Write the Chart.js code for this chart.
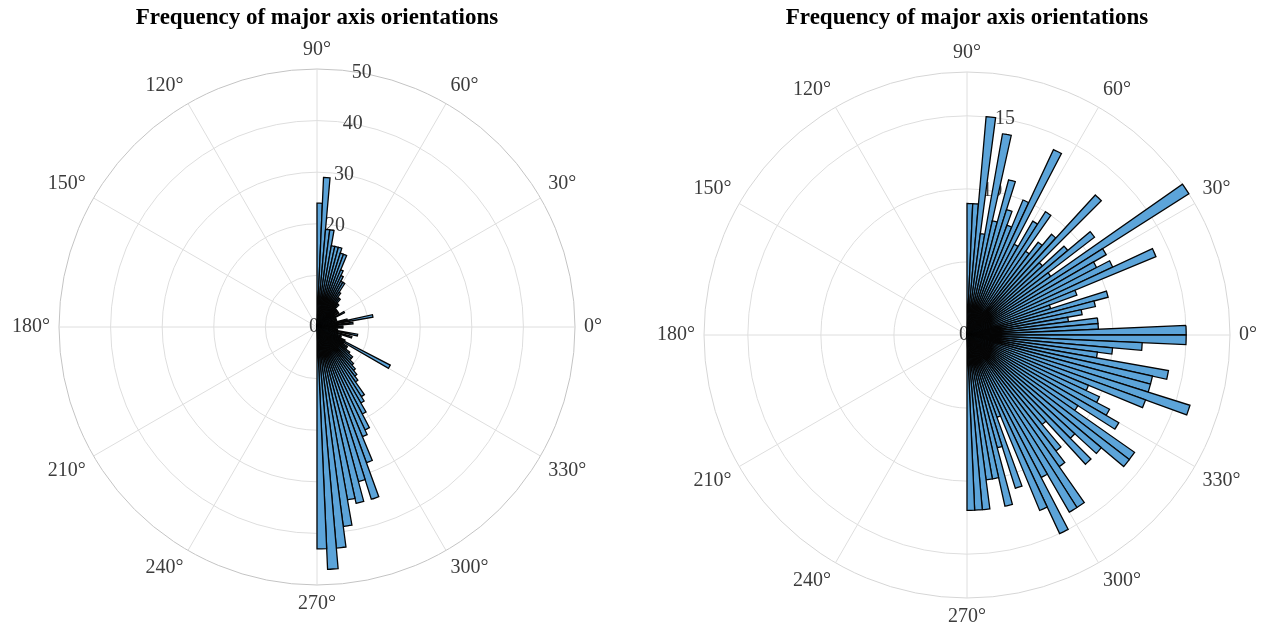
<!DOCTYPE html>
<html>
<head>
<meta charset="utf-8">
<title>Frequency of major axis orientations</title>
<script src="https://cdn.jsdelivr.net/npm/chart.js@4.4.1/dist/chart.umd.min.js"></script>
<style>
  html, body { margin: 0; padding: 0; background: #ffffff; }
  body { width: 1264px; height: 633px; position: relative; overflow: hidden; }
  canvas { position: absolute; top: 0; }
</style>
</head>
<body>
<canvas id="leftPolar" width="634" height="633" style="left:0px"></canvas>
<canvas id="rightPolar" width="630" height="633" style="left:634px"></canvas>
<script>
// Bin centres in degrees, 2.5° wide, ordered clockwise from 90° down to -90°
const binCenters = [
  88.75, 86.25, 83.75, 81.25, 78.75, 76.25, 73.75, 71.25, 68.75, 66.25, 63.75, 61.25,
  58.75, 56.25, 53.75, 51.25, 48.75, 46.25, 43.75, 41.25, 38.75, 36.25, 33.75, 31.25,
  28.75, 26.25, 23.75, 21.25, 18.75, 16.25, 13.75, 11.25, 8.75, 6.25, 3.75, 1.25,
  -1.25, -3.75, -6.25, -8.75, -11.25, -13.75, -16.25, -18.75, -21.25, -23.75, -26.25, -28.75,
  -31.25, -33.75, -36.25, -38.75, -41.25, -43.75, -46.25, -48.75, -51.25, -53.75, -56.25, -58.75,
  -61.25, -63.75, -66.25, -68.75, -71.25, -73.75, -76.25, -78.75, -81.25, -83.75, -86.25, -88.75
];
const binWidth = 2.5;

// Counts per bin, first panel
const leftCounts = [
  24, 29, 19, 19, 16, 16, 16, 15, 15, 12, 11, 10,
  10, 8, 7, 7, 6, 6, 5, 5, 5, 4, 5, 4,
  6, 4, 4, 3, 4, 3, 6, 11, 3, 7, 4, 5,
  5, 3, 4, 3, 8, 4, 7, 4, 5, 5, 6, 16,
  6, 7, 7, 8, 9, 9, 10, 11, 12, 13, 16, 17,
  19, 22, 23, 28, 35, 31, 35, 34, 39, 43, 47, 43
];

// Counts per bin, second panel
const rightCounts = [
  9, 9, 15, 7, 14, 8, 11, 9, 8, 10, 14, 7,
  9, 10, 7, 8, 9, 13, 7, 9, 11, 7, 18, 11,
  10, 11, 14, 8, 6, 10, 9, 8, 7, 9, 9, 15,
  15, 12, 10, 9, 14, 13, 13, 16, 13, 9, 10, 11,
  12, 9, 14, 14, 12, 10, 12, 8, 10, 11, 14, 14,
  11, 15, 13, 6, 11, 8, 12, 10, 10, 12, 12, 12
];

// Axis ticks
const thetaTicks = [0, 30, 60, 90, 120, 150, 180, 210, 240, 270, 300, 330];
const rTicksLeft = [0, 10, 20, 30, 40, 50];
const rTicksRight = [0, 5, 10, 15, 18];
const rLabelsLeft = ['0', '10', '20', '30', '40', '50'];
const rLabelsRight = ['0', '5', '10', '15', ''];

const titleText = 'Frequency of major axis orientations';
const serif = '"Liberation Serif", "Times New Roman", serif';
const textColor = '#3c3c3c';
const gridColor = '#dedede';

// Spokes, radial tick labels (behind the bars) and angle labels (on top)
const polarFrame = {
  id: 'polarFrame',
  beforeDatasetsDraw(chart, args, opts) {
    const s = chart.scales.r;
    const ctx = chart.ctx;
    const cx = s.xCenter, cy = s.yCenter, R = s.drawingArea;
    ctx.save();
    ctx.strokeStyle = gridColor;
    ctx.lineWidth = 1;
    thetaTicks.forEach(a => {
      const t = a * Math.PI / 180;
      ctx.beginPath();
      ctx.moveTo(cx, cy);
      ctx.lineTo(cx + R * Math.cos(t), cy - R * Math.sin(t));
      ctx.stroke();
    });
    ctx.fillStyle = textColor;
    ctx.font = '20px ' + serif;
    ctx.textBaseline = 'middle';
    const ra = opts.rLabelAngle * Math.PI / 180;
    opts.rTicks.forEach((v, i) => {
      const label = opts.rLabels[i];
      if (!label) return;
      const d = s.getDistanceFromCenterForValue(v);
      if (v === 0) {
        ctx.textAlign = 'right';
        ctx.fillText(label, cx + 2, cy);
      } else {
        ctx.textAlign = 'center';
        ctx.fillText(label, cx + d * Math.cos(ra), cy - d * Math.sin(ra));
      }
    });
    ctx.restore();
  },
  afterDatasetsDraw(chart, args, opts) {
    const s = chart.scales.r;
    const ctx = chart.ctx;
    const cx = s.xCenter, cy = s.yCenter, R = s.drawingArea + opts.labelGap;
    ctx.save();
    ctx.fillStyle = textColor;
    ctx.font = '20px ' + serif;
    thetaTicks.forEach(a => {
      const t = a * Math.PI / 180;
      const c = Math.cos(t), sn = Math.sin(t);
      ctx.textAlign = c > 0.1 ? 'left' : (c < -0.1 ? 'right' : 'center');
      ctx.textBaseline = sn > 0.1 ? 'bottom' : (sn < -0.1 ? 'top' : 'middle');
      ctx.fillText(a + '\u00B0', cx + R * c, cy - R * sn);
    });
    ctx.restore();
  }
};

function polarHistogram(canvasId, counts, rMax, rTicks, rLabels, pad, outerColor) {
  return new Chart(document.getElementById(canvasId), {
    type: 'polarArea',
    data: {
      labels: binCenters.map(c => c + '\u00B0'),
      datasets: [{
        data: counts,
        angle: binWidth,
        backgroundColor: '#5ca4d9',
        borderColor: '#050505',
        borderWidth: 1.3,
        borderJoinStyle: 'miter'
      }]
    },
    options: {
      responsive: false,
      animation: false,
      events: [],
      layout: { padding: { left: pad.left, right: pad.right, top: 0, bottom: pad.bottom } },
      plugins: {
        legend: { display: false },
        tooltip: { enabled: false },
        title: {
          display: true,
          text: titleText,
          color: '#000000',
          font: { family: serif, size: 23, weight: 'bold', lineHeight: 1.2 },
          padding: { top: 4, bottom: pad.titleBottom }
        },
        polarFrame: { rTicks: rTicks, rLabels: rLabels, rLabelAngle: 80, labelGap: 9 }
      },
      scales: {
        r: {
          min: 0,
          max: rMax,
          startAngle: 0,
          afterBuildTicks: axis => { axis.ticks = rTicks.map(v => ({ value: v })); },
          ticks: { display: false },
          pointLabels: { display: false },
          angleLines: { display: false },
          grid: {
            circular: true,
            lineWidth: 1,
            color: ctx => (ctx.tick && ctx.tick.value === rMax) ? outerColor : gridColor
          }
        }
      }
    },
    plugins: [polarFrame]
  });
}

// First panel: centre (317, 327), radius 258
polarHistogram('leftPolar', leftCounts, 50, rTicksLeft, rLabelsLeft,
  { left: 59, right: 59, bottom: 48, titleBottom: 37.4 }, '#c4c4c4');

// Second panel: centre (967, 335), radius 263
polarHistogram('rightPolar', rightCounts, 18, rTicksRight, rLabelsRight,
  { left: 70, right: 34, bottom: 35, titleBottom: 40.4 }, '#d6d6d6');
</script>
</body>
</html>
